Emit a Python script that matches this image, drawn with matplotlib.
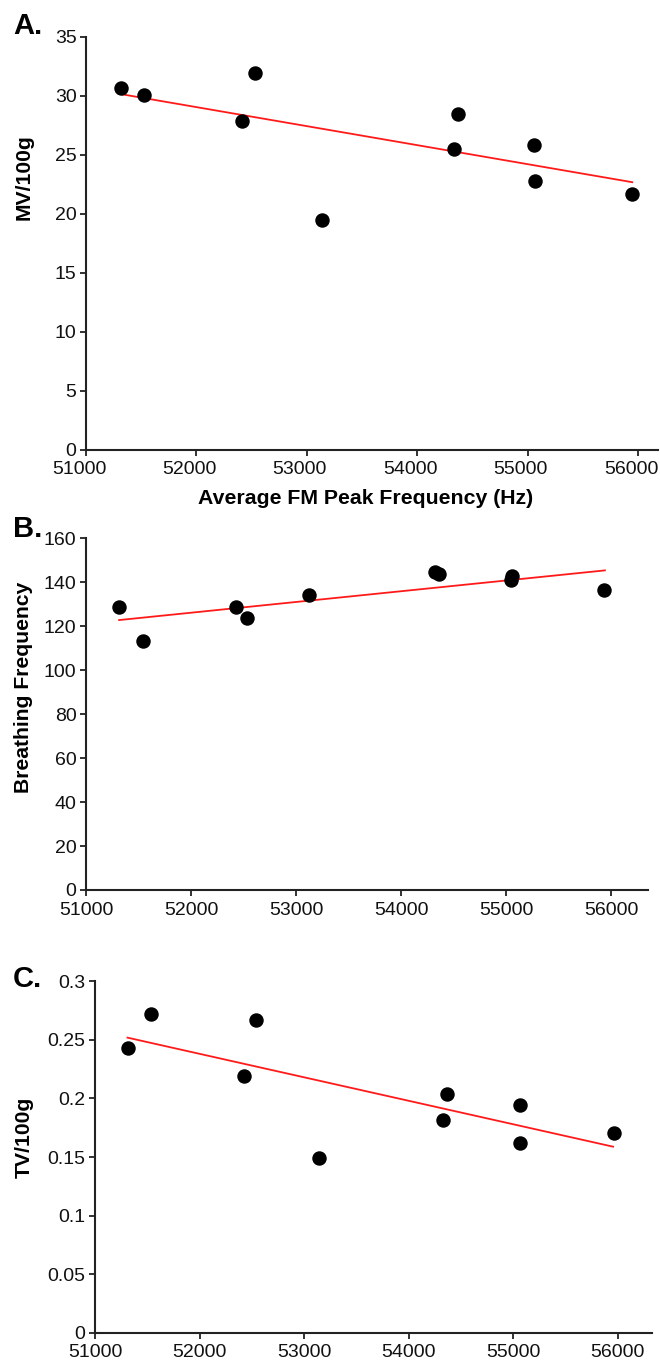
import matplotlib
matplotlib.use("Agg")
import matplotlib.pyplot as plt
import matplotlib.transforms as mtrans

plt.rcParams['font.family'] = ['Liberation Sans', 'DejaVu Sans']

# ---- data ----
freq_A = [51313, 51527, 52416, 52534, 53134, 54336, 54366, 55053, 55069, 55947]
mv_100g = [30.62, 30.05, 27.82, 31.89, 19.44, 25.47, 28.49, 25.86, 22.78, 21.68]
fitA_x = [51313, 55947]
fitA_y = [30.14, 22.67]

freq_B = [51315, 51539, 52426, 52534, 53125, 54323, 54363, 55050, 55054, 55928]
breath_freq = [128.8, 113.1, 128.9, 123.7, 134.4, 144.7, 143.6, 140.9, 142.7, 136.3]
fitB_x = [51315, 55940]
fitB_y = [122.8, 145.4]

freq_C = [51311, 51533, 52429, 52538, 53139, 54333, 54366, 55060, 55060, 55960]
tv_100g = [0.2434, 0.2724, 0.2192, 0.2670, 0.1492, 0.1813, 0.2038, 0.1941, 0.1617, 0.1702]
fitC_x = [51311, 55955]
fitC_y = [0.2519, 0.1588]

x_ticks = [51000, 52000, 53000, 54000, 55000, 56000]
yticks_A = [0, 5, 10, 15, 20, 25, 30, 35]
yticks_B = [0, 20, 40, 60, 80, 100, 120, 140, 160]
yticks_C = [0, 0.05, 0.1, 0.15, 0.2, 0.25, 0.3]
ytl_C = ['0', '0.05', '0.1', '0.15', '0.2', '0.25', '0.3']

W, H = 660, 1361
fig = plt.figure(figsize=(W / 100, H / 100), dpi=100)


def rect(l, r, t, b):
    return [l / W, 1 - b / H, (r - l) / W, (b - t) / H]


def style(ax, xshift=0.0):
    for s in ['top', 'right']:
        ax.spines[s].set_visible(False)
    for s in ['left', 'bottom']:
        ax.spines[s].set_linewidth(1.5)
        ax.spines[s].set_color('#222222')
    ax.tick_params(axis='both', direction='out', length=4.3, width=1.3,
                   color='#222222', labelsize=14, labelcolor='#111111')
    ax.tick_params(axis='x', pad=4)
    ax.tick_params(axis='y', pad=2.5)
    ax.set_xticks(x_ticks)
    ax.set_xticklabels([str(t) for t in x_ticks])
    if xshift:
        off = mtrans.ScaledTranslation(xshift / 100, 0, fig.dpi_scale_trans)
        for lab in ax.get_xticklabels():
            lab.set_transform(lab.get_transform() + off)


def ftext(x, y, s, **kw):
    fig.text(x / W, 1 - y / H, s, **kw)


# Panel A
axA = fig.add_axes(rect(86, 658, 36.7, 449.7))
style(axA, xshift=-7)
axA.plot(fitA_x, fitA_y, color='#ff1a1a', lw=1.3, zorder=2)
axA.plot(freq_A, mv_100g, 'o', color='black', ms=9.4, zorder=3)
axA.set_xlim(51000, 56180)
axA.set_ylim(0, 35)
axA.set_yticks(yticks_A)
ftext(366, 498, 'Average FM Peak Frequency (Hz)', fontsize=15.3, fontweight='bold',
      ha='center', va='center')
ftext(24, 177, 'MV/100g', fontsize=15.2, fontweight='bold', rotation=90,
      ha='center', va='center')
ftext(13, 34, 'A.', fontsize=21, fontweight='bold', ha='left', va='baseline')

# Panel B
axB = fig.add_axes(rect(86, 648, 538.3, 890))
style(axB)
axB.plot(fitB_x, fitB_y, color='#ff1a1a', lw=1.3, zorder=2)
axB.plot(freq_B, breath_freq, 'o', color='black', ms=9.4, zorder=3)
axB.set_xlim(51000, 56350)
axB.set_ylim(0, 160)
axB.set_yticks(yticks_B)
ftext(24, 687, 'Breathing Frequency', fontsize=15.2, fontweight='bold', rotation=90,
      ha='center', va='center')
ftext(13, 537, 'B.', fontsize=21, fontweight='bold', ha='left', va='baseline')

# Panel C
axC = fig.add_axes(rect(95, 652.3, 981.3, 1332.7))
style(axC)
axC.plot(fitC_x, fitC_y, color='#ff1a1a', lw=1.3, zorder=2)
axC.plot(freq_C, tv_100g, 'o', color='black', ms=9.4, zorder=3)
axC.set_xlim(51000, 56330)
axC.set_ylim(0, 0.3)
axC.set_yticks(yticks_C)
axC.set_yticklabels(ytl_C)
ftext(24, 1137, 'TV/100g', fontsize=15.2, fontweight='bold', rotation=90,
      ha='center', va='center')
ftext(13, 987, 'C.', fontsize=21, fontweight='bold', ha='left', va='baseline')

fig.savefig('out.png', dpi=100)
